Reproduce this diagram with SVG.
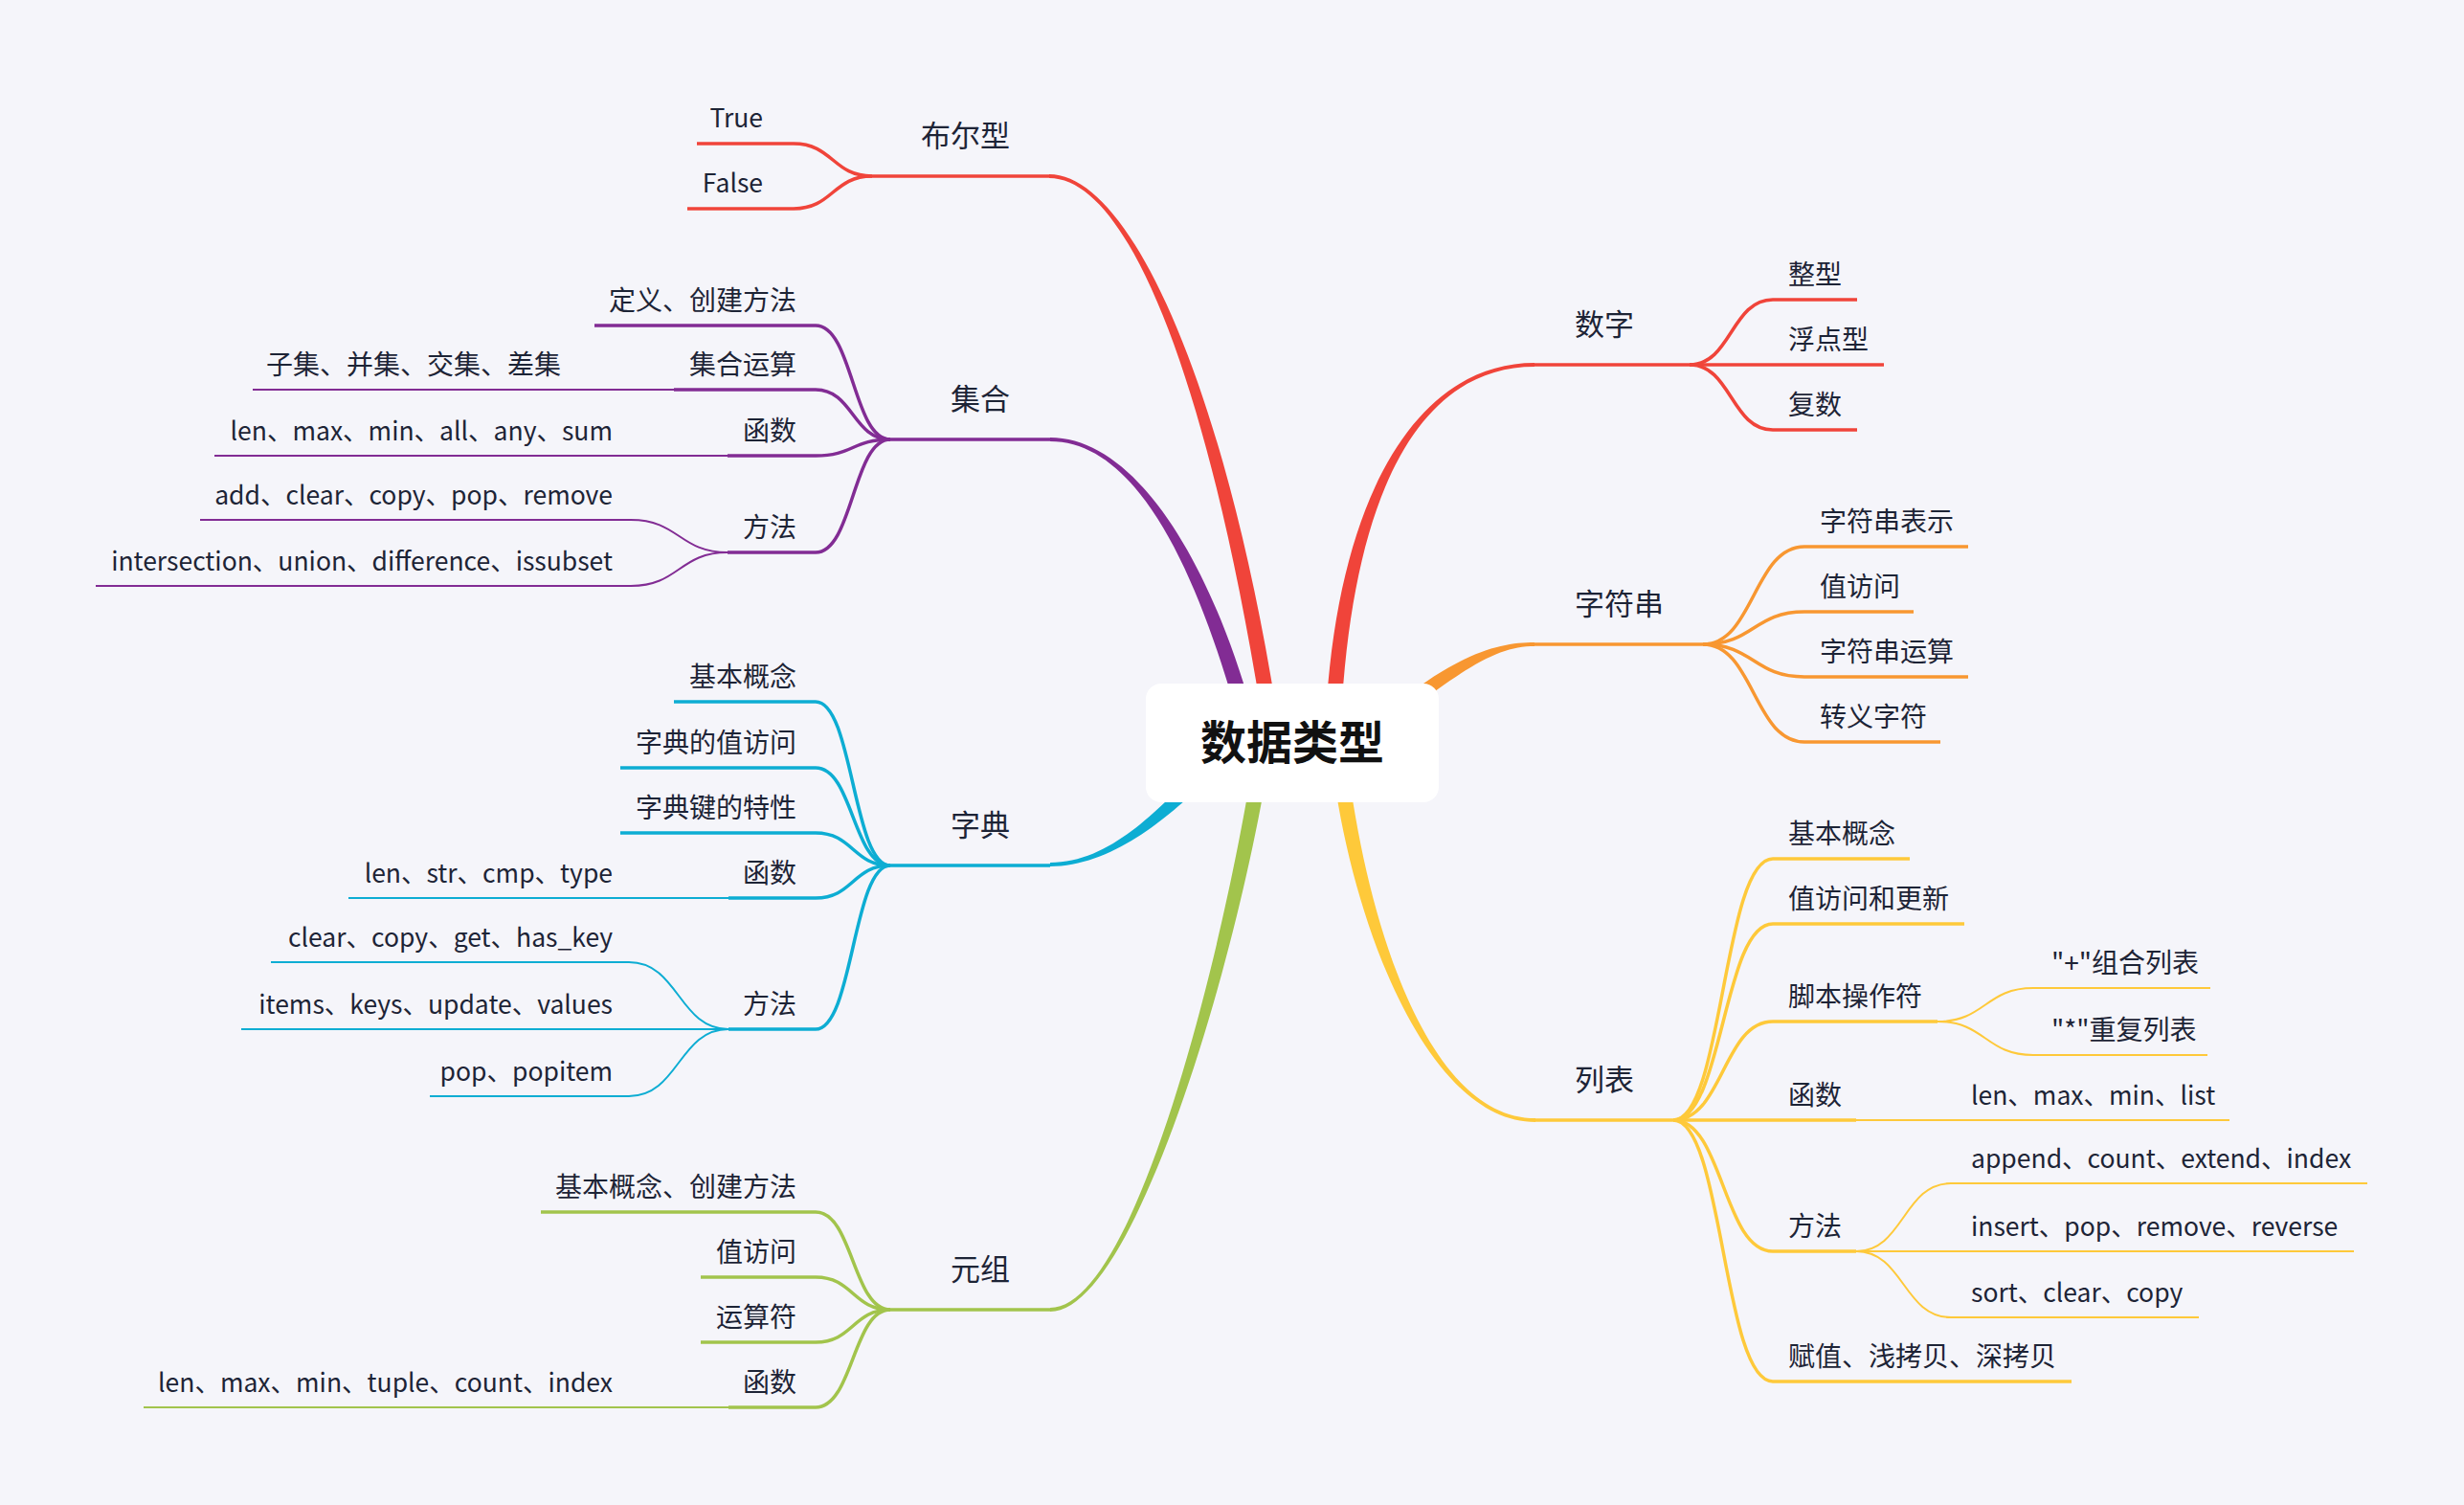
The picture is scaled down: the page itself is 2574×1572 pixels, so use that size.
<svg xmlns="http://www.w3.org/2000/svg" width="2574" height="1572" viewBox="0 0 2574 1572">
<style>
text{font-family:"Noto Sans CJK SC","Noto Sans",sans-serif;fill:#1D2436}
.t1{font-size:31px}
.t2{font-size:28px}
.lat{font-size:26.5px}
.e{text-anchor:end}
.c{fill:none;stroke-linecap:butt}
.w2{stroke-width:3.5}
.w3{stroke-width:2}
.red{stroke:#F0443A}.redf{fill:#F0443A}
.pur{stroke:#822C94}.purf{fill:#822C94}
.cya{stroke:#0DADD3}.cyaf{fill:#0DADD3}
.grn{stroke:#A2C44C}.grnf{fill:#A2C44C}
.org{stroke:#F89731}.orgf{fill:#F89731}
.yel{stroke:#FEC93A}.yelf{fill:#FEC93A}
</style>
<rect width="2574" height="1572" fill="#F5F5FA"/>
<g id="connectors">
<path class="redf" d="M1096,186 C1180,186 1262.1,401.3 1317.1,741.3 L1332.9,738.7 C1277.9,398.7 1180,182 1096,182 Z"/>
<path class="purf" d="M1097,461 C1185,461 1247.3,587.2 1292.3,747.2 L1307.7,742.8 C1262.7,582.8 1185,457 1097,457 Z"/>
<path class="cyaf" d="M1097,905 C1160,905 1220,855 1260,815 L1250,805 C1210,845 1160,901 1097,901 Z"/>
<path class="grnf" d="M1097,1370 C1185,1370 1292.9,1001.2 1325.9,791.2 L1310.1,788.8 C1277.1,998.8 1185,1366 1097,1366 Z"/>
<path class="redf" d="M1603,379 C1480,379 1397,519.6 1385,749.6 L1401,750.4 C1413,520.4 1480,383 1603,383 Z"/>
<path class="orgf" d="M1603,671 C1570,671 1530.7,679.4 1465.7,729.4 L1474.3,740.6 C1539.3,690.6 1570,675 1603,675 Z"/>
<path class="yelf" d="M1604,1168 C1490,1168 1427.9,959 1407.9,799 L1392.1,801 C1412.1,961 1490,1172 1604,1172 Z"/>
<g class="c w2 red">
<path d="M1765,381 C1808.5,381 1808.5,313 1852,313"/>
<path d="M1765,381 H1852"/>
<path d="M1765,381 C1808.5,381 1808.5,449 1852,449"/>
</g>
<g class="c w2 org">
<path d="M1779,673 C1832,673 1832,571 1885,571"/>
<path d="M1779,673 C1832,673 1832,639 1885,639"/>
<path d="M1779,673 C1832,673 1832,707 1885,707"/>
<path d="M1779,673 C1832,673 1832,775 1885,775"/>
</g>
<g class="c w2 yel">
<path d="M1748,1170 C1800,1170 1800,897 1852,897"/>
<path d="M1748,1170 C1800,1170 1800,965 1852,965"/>
<path d="M1748,1170 C1800,1170 1800,1067 1852,1067"/>
<path d="M1748,1170 H1852"/>
<path d="M1748,1170 C1800,1170 1800,1307 1852,1307"/>
<path d="M1748,1170 C1800,1170 1800,1443 1852,1443"/>
</g>
<g class="c w3 yel">
<path d="M2024,1067 C2074,1067 2074,1032 2124,1032"/>
<path d="M2024,1067 C2074,1067 2074,1102 2124,1102"/>
<path d="M1939,1170 H2043"/>
<path d="M1939,1307 C1988.5,1307 1988.5,1236 2038,1236"/>
<path d="M1939,1307 H2038"/>
<path d="M1939,1307 C1988.5,1307 1988.5,1376 2038,1376"/>
</g>
<g class="c w2 red">
<path d="M911,184 C870,184 870,150 829,150"/>
<path d="M911,184 C870,184 870,218 829,218"/>
</g>
<g class="c w2 pur">
<path d="M930,459 C891,459 891,340 852,340"/>
<path d="M930,459 C891,459 891,407 852,407"/>
<path d="M930,459 C891,459 891,476 852,476"/>
<path d="M930,459 C891,459 891,577 852,577"/>
</g>
<g class="c w3 pur">
<path d="M704,407 H602"/>
<path d="M760,476 H656"/>
<path d="M760,577 C709.5,577 709.5,543 659,543"/>
<path d="M760,577 C709.5,577 709.5,612 659,612"/>
</g>
<g class="c w2 cya">
<path d="M930,904 C891,904 891,733 852,733"/>
<path d="M930,904 C891,904 891,802 852,802"/>
<path d="M930,904 C891,904 891,870 852,870"/>
<path d="M930,904 C891,904 891,938 852,938"/>
<path d="M930,904 C891,904 891,1075 852,1075"/>
</g>
<g class="c w3 cya">
<path d="M761,938 H656"/>
<path d="M761,1075 C709,1075 709,1005 657,1005"/>
<path d="M761,1075 H657"/>
<path d="M761,1075 C709,1075 709,1145 657,1145"/>
</g>
<g class="c w2 grn">
<path d="M930,1368 C891,1368 891,1266 852,1266"/>
<path d="M930,1368 C891,1368 891,1334 852,1334"/>
<path d="M930,1368 C891,1368 891,1402 852,1402"/>
<path d="M930,1368 C891,1368 891,1470 852,1470"/>
</g>
<g class="c w3 grn">
<path d="M761,1470 H656"/>
</g>
</g>

<g id="root">
<rect x="1197" y="714" width="306" height="124" rx="16" fill="#FFFFFF"/>
<text x="1350" y="793" text-anchor="middle" style="font-size:48px;font-weight:bold;fill:#111111">数据类型</text>
</g>

<g id="n-shuzi"><path class="c w2 red" d="M1603,381 H1765"/><text class="t1" x="1645" y="350">数字</text></g>
<g id="n-zhengxing"><path class="c w2 red" d="M1852,313 H1940"/><text class="t2" x="1868" y="297">整型</text></g>
<g id="n-fudian"><path class="c w2 red" d="M1852,381 H1968"/><text class="t2" x="1868" y="365">浮点型</text></g>
<g id="n-fushu"><path class="c w2 red" d="M1852,449 H1940"/><text class="t2" x="1868" y="433">复数</text></g>

<g id="n-str"><path class="c w2 org" d="M1603,673 H1779"/><text class="t1" x="1645" y="642">字符串</text></g>
<g id="n-str1"><path class="c w2 org" d="M1885,571 H2056"/><text class="t2" x="1901" y="555">字符串表示</text></g>
<g id="n-str2"><path class="c w2 org" d="M1885,639 H1999"/><text class="t2" x="1901" y="623">值访问</text></g>
<g id="n-str3"><path class="c w2 org" d="M1885,707 H2056"/><text class="t2" x="1901" y="691">字符串运算</text></g>
<g id="n-str4"><path class="c w2 org" d="M1885,775 H2027"/><text class="t2" x="1901" y="759">转义字符</text></g>

<g id="n-list"><path class="c w2 yel" d="M1604,1170 H1748"/><text class="t1" x="1645" y="1139">列表</text></g>
<g id="n-list1"><path class="c w2 yel" d="M1852,897 H1995"/><text class="t2" x="1868" y="881">基本概念</text></g>
<g id="n-list2"><path class="c w2 yel" d="M1852,965 H2052"/><text class="t2" x="1868" y="949">值访问和更新</text></g>
<g id="n-list3"><path class="c w2 yel" d="M1852,1067 H2024"/><text class="t2" x="1868" y="1051">脚本操作符</text></g>
<g id="n-list3a"><path class="c w3 yel" d="M2124,1032 H2309"/><text class="t2" x="2143" y="1016">"+"组合列表</text></g>
<g id="n-list3b"><path class="c w3 yel" d="M2124,1102 H2306"/><text class="t2" x="2143" y="1086">"*"重复列表</text></g>
<g id="n-list4"><path class="c w2 yel" d="M1852,1170 H1939"/><text class="t2" x="1868" y="1154">函数</text></g>
<g id="n-list4a"><path class="c w3 yel" d="M2043,1170 H2329"/><text class="lat" x="2059" y="1154">len、max、min、list</text></g>
<g id="n-list5"><path class="c w2 yel" d="M1852,1307 H1939"/><text class="t2" x="1868" y="1291">方法</text></g>
<g id="n-list5a"><path class="c w3 yel" d="M2038,1236 H2473"/><text class="lat" x="2059" y="1220">append、count、extend、index</text></g>
<g id="n-list5b"><path class="c w3 yel" d="M2038,1307 H2459"/><text class="lat" x="2059" y="1291">insert、pop、remove、reverse</text></g>
<g id="n-list5c"><path class="c w3 yel" d="M2038,1376 H2297"/><text class="lat" x="2059" y="1360">sort、clear、copy</text></g>
<g id="n-list6"><path class="c w2 yel" d="M1852,1443 H2164"/><text class="t2" x="1868" y="1427">赋值、浅拷贝、深拷贝</text></g>

<g id="n-bool"><path class="c w2 red" d="M911,184 H1096"/><text class="t1 e" x="1055" y="153">布尔型</text></g>
<g id="n-true"><path class="c w2 red" d="M728,150 H829"/><text class="lat e" x="797" y="133">True</text></g>
<g id="n-false"><path class="c w2 red" d="M718,218 H829"/><text class="lat e" x="797" y="201">False</text></g>

<g id="n-set"><path class="c w2 pur" d="M930,459 H1097"/><text class="t1 e" x="1055" y="428">集合</text></g>
<g id="n-set1"><path class="c w2 pur" d="M621,340 H852"/><text class="t2 e" x="832" y="324">定义、创建方法</text></g>
<g id="n-set2"><path class="c w2 pur" d="M704,407 H852"/><text class="t2 e" x="832" y="391">集合运算</text></g>
<g id="n-set2a"><path class="c w3 pur" d="M264,407 H602"/><text class="t2 e" x="586" y="391">子集、并集、交集、差集</text></g>
<g id="n-set3"><path class="c w2 pur" d="M760,476 H852"/><text class="t2 e" x="832" y="460">函数</text></g>
<g id="n-set3a"><path class="c w3 pur" d="M224,476 H656"/><text class="lat e" x="640" y="460">len、max、min、all、any、sum</text></g>
<g id="n-set4"><path class="c w2 pur" d="M760,577 H852"/><text class="t2 e" x="832" y="561">方法</text></g>
<g id="n-set4a"><path class="c w3 pur" d="M209,543 H659"/><text class="lat e" x="640" y="527">add、clear、copy、pop、remove</text></g>
<g id="n-set4b"><path class="c w3 pur" d="M100,612 H659"/><text class="lat e" x="640" y="596">intersection、union、difference、issubset</text></g>

<g id="n-dict"><path class="c w2 cya" d="M930,904 H1097"/><text class="t1 e" x="1055" y="873">字典</text></g>
<g id="n-dict1"><path class="c w2 cya" d="M704,733 H852"/><text class="t2 e" x="832" y="717">基本概念</text></g>
<g id="n-dict2"><path class="c w2 cya" d="M648,802 H852"/><text class="t2 e" x="832" y="786">字典的值访问</text></g>
<g id="n-dict3"><path class="c w2 cya" d="M648,870 H852"/><text class="t2 e" x="832" y="854">字典键的特性</text></g>
<g id="n-dict4"><path class="c w2 cya" d="M761,938 H852"/><text class="t2 e" x="832" y="922">函数</text></g>
<g id="n-dict4a"><path class="c w3 cya" d="M364,938 H656"/><text class="lat e" x="640" y="922">len、str、cmp、type</text></g>
<g id="n-dict5"><path class="c w2 cya" d="M761,1075 H852"/><text class="t2 e" x="832" y="1059">方法</text></g>
<g id="n-dict5a"><path class="c w3 cya" d="M283,1005 H657"/><text class="lat e" x="640" y="989">clear、copy、get、has_key</text></g>
<g id="n-dict5b"><path class="c w3 cya" d="M252,1075 H657"/><text class="lat e" x="640" y="1059">items、keys、update、values</text></g>
<g id="n-dict5c"><path class="c w3 cya" d="M449,1145 H657"/><text class="lat e" x="640" y="1129">pop、popitem</text></g>

<g id="n-tuple"><path class="c w2 grn" d="M930,1368 H1097"/><text class="t1 e" x="1055" y="1337">元组</text></g>
<g id="n-tuple1"><path class="c w2 grn" d="M565,1266 H852"/><text class="t2 e" x="832" y="1250">基本概念、创建方法</text></g>
<g id="n-tuple2"><path class="c w2 grn" d="M732,1334 H852"/><text class="t2 e" x="832" y="1318">值访问</text></g>
<g id="n-tuple3"><path class="c w2 grn" d="M732,1402 H852"/><text class="t2 e" x="832" y="1386">运算符</text></g>
<g id="n-tuple4"><path class="c w2 grn" d="M761,1470 H852"/><text class="t2 e" x="832" y="1454">函数</text></g>
<g id="n-tuple4a"><path class="c w3 grn" d="M150,1470 H656"/><text class="lat e" x="640" y="1454">len、max、min、tuple、count、index</text></g>
</svg>
